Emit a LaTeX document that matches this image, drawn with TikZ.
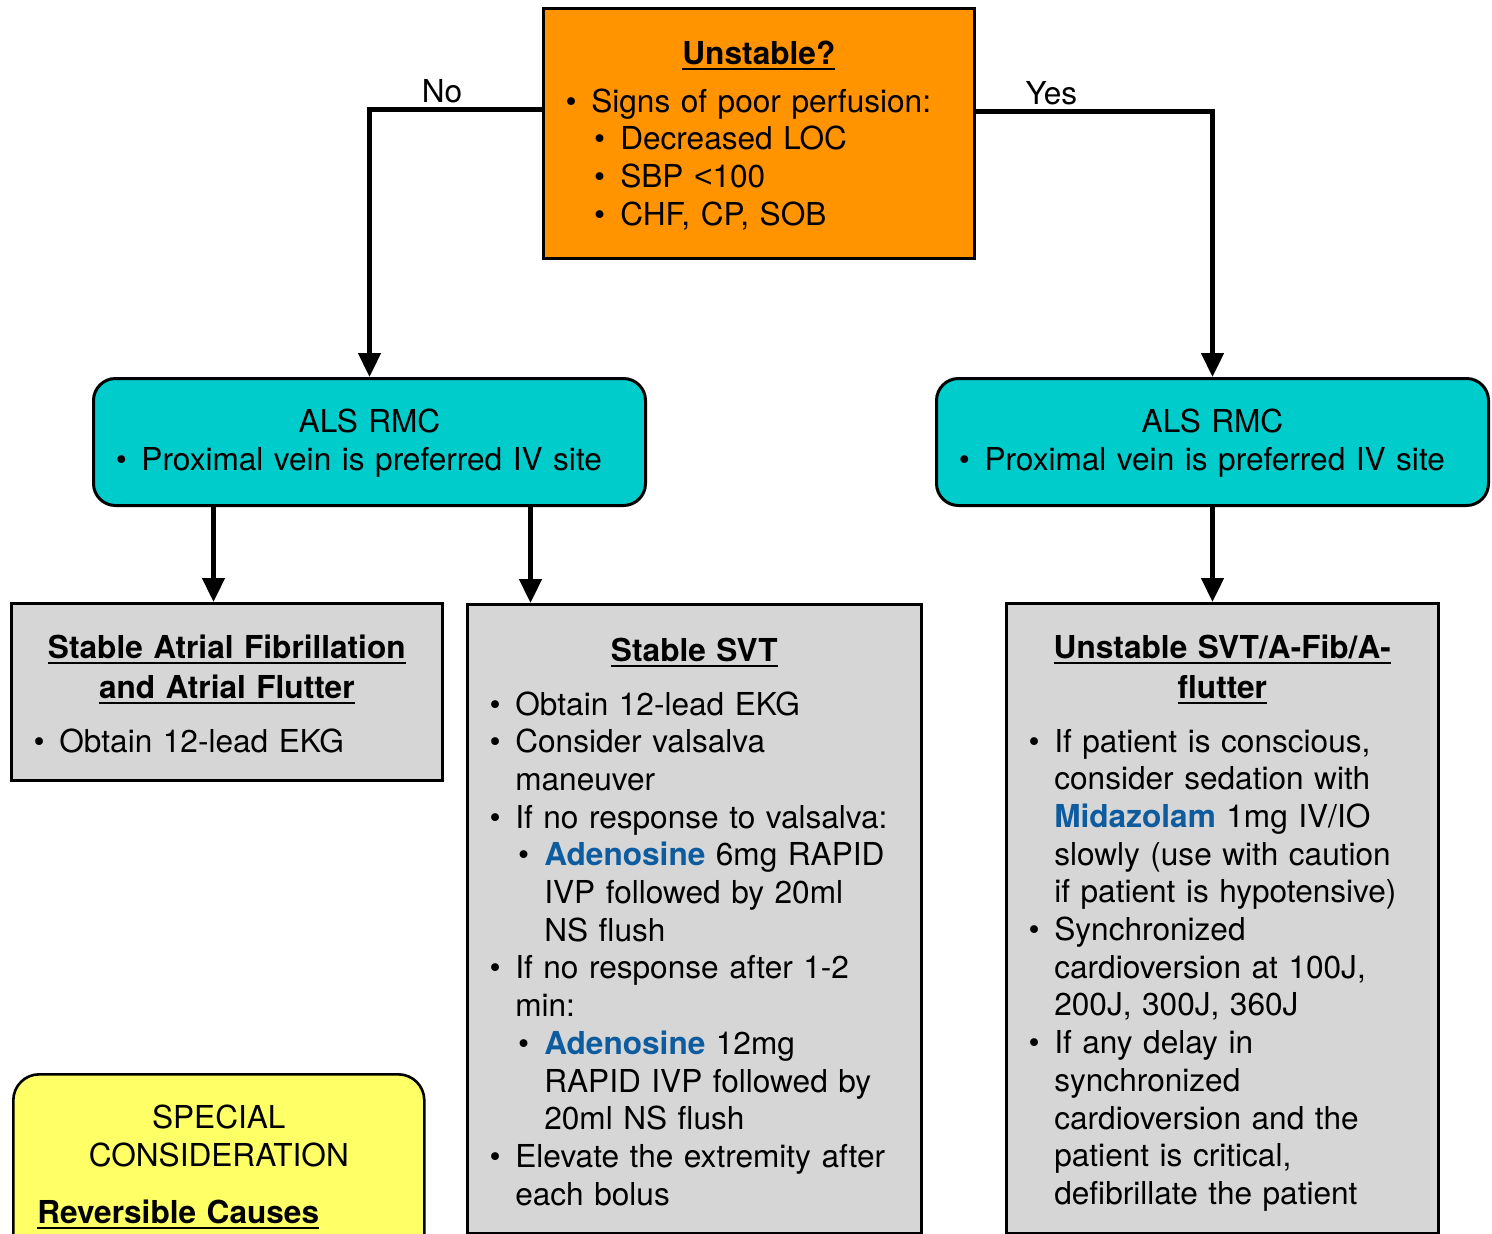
\documentclass[tikz,border=0pt]{standalone}
\usepackage{fontspec}
\setmainfont{TeX Gyre Heros}
\newfontfamily\altsans{Liberation Sans}
\usetikzlibrary{arrows.meta}

\definecolor{boxorange}{RGB}{255,148,0}
\definecolor{boxcyan}{RGB}{0,204,204}
\definecolor{boxgray}{RGB}{214,214,214}
\definecolor{boxyellow}{RGB}{255,255,102}
\definecolor{drugblue}{RGB}{14,92,160}

\newcommand{\undl}[1]{\setbox0=\hbox{#1}\leavevmode\rlap{\rule[-2.6pt]{\wd0}{1pt}}\box0}
\newcommand{\drug}[1]{\textcolor{drugblue}{\bfseries #1}}
\newcommand{\bitem}[1]{\par\hangindent=16pt\hangafter=1\noindent
  \makebox[16pt][l]{\hspace{3.2pt}\textbullet}#1}
\newcommand{\sitem}[1]{\par\hangindent=30.5pt\hangafter=1\noindent
  \makebox[30.5pt][l]{\hspace{17.4pt}\textbullet}#1}
\newcommand{\headline}[1]{{\centering #1\par}}
\newcommand{\titleblock}[1]{{\centering\bfseries\baselineskip=20pt #1\par}\vspace{8pt}}

\begin{document}
\begin{tikzpicture}[x=0.5pt,y=-0.5pt,
  box/.style={draw,line width=1.3pt,anchor=north west,inner xsep=8pt,inner ysep=0pt,
    align=left,font=\fontsize{15.8}{18.85}\selectfont},
  orangebox/.style={box,fill=boxorange},
  cyanbox/.style={box,fill=boxcyan,rounded corners=11pt,line width=1.5pt},
  graybox/.style={box,fill=boxgray},
  yellowbox/.style={box,fill=boxyellow,rounded corners=13pt,inner xsep=12pt},
  arr/.style={line width=2.3pt,-{Triangle[width=11pt,length=12pt]}},
  lbl/.style={inner sep=2pt,font=\fontsize{15.8}{18.85}\selectfont}]
  \useasboundingbox (0,0) rectangle (1492,1233);
  \clip (0,0) rectangle (1492,1233);

  \node[orangebox, text width=199.5pt, text height=28pt, text depth=97pt] (unstable) at (542,7) {%
    \headline{\undl{\bfseries Unstable?}}\vspace{5pt}
    \bitem{Signs of poor perfusion:}
    \sitem{Decreased LOC}
    \sitem{SBP {\altsans <}100}
    \sitem{CHF, CP, SOB}\par};

  \node[cyanbox, text width=260pt, text height=27pt, text depth=36.5pt] (alsL) at (92,377)
    {\headline{ALS RMC}\bitem{Proximal vein is preferred IV site}\par};
  \node[cyanbox, text width=260pt, text height=27pt, text depth=36.5pt] (alsR) at (935,377)
    {\headline{ALS RMC}\bitem{Proximal vein is preferred IV site}\par};

  \node[graybox, text width=199.5pt, text height=27.5pt, text depth=61pt] (afib) at (10,602) {%
    \titleblock{\undl{Stable Atrial Fibrillation}\\\undl{and Atrial Flutter}}
    \bitem{Obtain 12-lead EKG}\par};

  \node[graybox, text width=211pt, text height=28.5pt, text depth=286pt] (svt) at (466,603) {%
    \titleblock{\undl{Stable SVT}}
    \bitem{Obtain 12-lead EKG}
    \bitem{Consider valsalva\newline maneuver}
    \bitem{If no response to valsalva:}
    \sitem{\drug{Adenosine} 6mg RAPID\newline IVP followed by 20ml\newline NS flush}
    \bitem{If no response after 1-2\newline min:}
    \sitem{\drug{Adenosine} 12mg\newline RAPID IVP followed by\newline 20ml NS flush}
    \bitem{Elevate the extremity after\newline each bolus}\par};

  \node[graybox, text width=200pt, text height=27.5pt, text depth=287.5pt] (unst) at (1005,602) {%
    \titleblock{\undl{Unstable SVT/A-Fib/A-}\\\undl{flutter}}
    \bitem{If patient is conscious,\newline consider sedation with\newline
      \drug{Midazolam} 1mg IV/IO\newline slowly (use with caution\newline
      if patient is hypotensive)}
    \bitem{Synchronized\newline cardioversion at 100J,\newline 200J, 300J, 360J}
    \bitem{If any delay in\newline synchronized\newline cardioversion and the\newline
      patient is critical,\newline defibrillate the patient}\par};

  \node[yellowbox, text width=181.5pt, text height=27pt, text depth=83pt] (spec) at (12,1073) {%
    \headline{SPECIAL\\CONSIDERATION}\vspace{10pt}
    \undl{\bfseries Reversible Causes}\par};

  \draw[arr] ([yshift=12pt]unstable.west) -| node[lbl, above, pos=0.29] (no) {No} (alsL.north);
  \draw[arr] ([yshift=11pt]unstable.east) -| node[lbl, above, pos=0.16] (yes) {Yes} (alsR.north);

  \coordinate (aL1) at ([xshift=-78pt]alsL.south);
  \coordinate (aL2) at ([xshift=80.5pt]alsL.south);
  \draw[arr] (aL1) -- (aL1 |- afib.north);
  \draw[arr] (aL2) -- (aL2 |- svt.north);
  \draw[arr] (alsR.south) -- (alsR.south |- unst.north);
\end{tikzpicture}
\end{document}
